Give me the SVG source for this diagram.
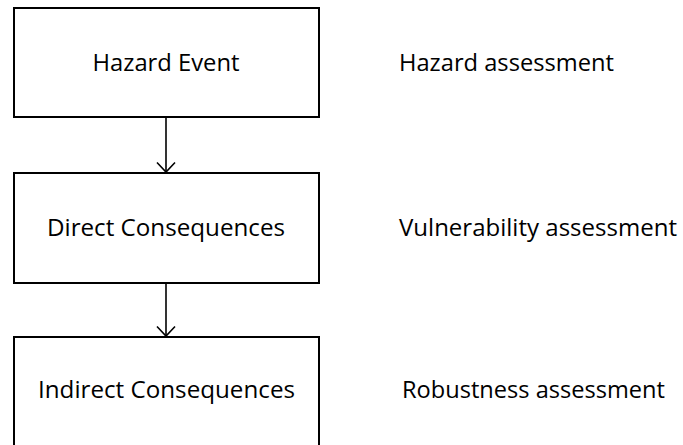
<svg xmlns="http://www.w3.org/2000/svg" width="683" height="445" viewBox="0 0 683 445">
<style>
.box{fill:#fff;stroke:#000;stroke-width:2}
.t{font-family:"Open Sans","Liberation Sans",sans-serif;font-size:24px;fill:#000}
.c{text-anchor:middle}
.conn{stroke:#000;stroke-width:1.6;fill:none}
</style>
<defs>
<marker id="arr" markerUnits="userSpaceOnUse" markerWidth="24" markerHeight="24" refX="12" refY="12" orient="auto" viewBox="0 0 24 24">
<path d="M2.5 3 L12 12 L2.5 21" fill="none" stroke="#000" stroke-width="1.6"/>
</marker>
</defs>
<rect width="683" height="445" fill="#fff"/>
<g id="connectors">
<line class="conn" x1="166" y1="118" x2="166" y2="172" marker-end="url(#arr)"/>
<line class="conn" x1="166" y1="284" x2="166" y2="336" marker-end="url(#arr)"/>
</g>
<g id="hazard-event">
<rect class="box" x="14" y="8" width="305" height="109"/>
<text class="t c" x="166" y="71" textLength="147" lengthAdjust="spacingAndGlyphs">Hazard Event</text>
</g>
<g id="direct-consequences">
<rect class="box" x="14" y="173" width="305" height="110"/>
<text class="t c" x="166" y="236" textLength="238" lengthAdjust="spacingAndGlyphs">Direct Consequences</text>
</g>
<g id="indirect-consequences">
<rect class="box" x="14" y="337" width="305" height="112"/>
<text class="t c" x="166.5" y="398" textLength="257" lengthAdjust="spacingAndGlyphs">Indirect Consequences</text>
</g>
<g id="hazard-assessment">
<text class="t" x="399" y="71" textLength="215" lengthAdjust="spacingAndGlyphs">Hazard assessment</text>
</g>
<g id="vulnerability-assessment">
<text class="t" x="399" y="236" textLength="278" lengthAdjust="spacingAndGlyphs">Vulnerability assessment</text>
</g>
<g id="robustness-assessment">
<text class="t" x="402" y="398" textLength="263" lengthAdjust="spacingAndGlyphs">Robustness assessment</text>
</g>
</svg>
